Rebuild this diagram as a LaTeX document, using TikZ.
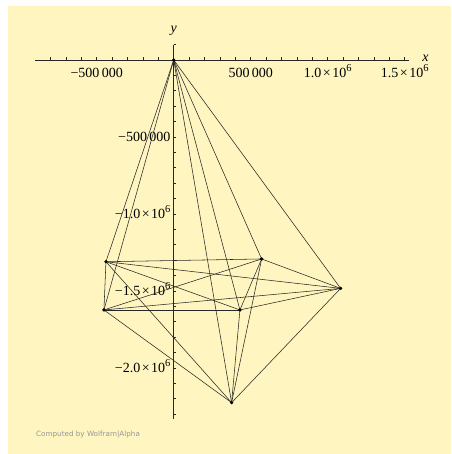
\documentclass[tikz,border=0pt]{standalone}
\usepackage{fontspec}
\setmainfont{Liberation Serif}
\newfontfamily\wafont{DejaVu Sans}
\definecolor{wabg}{RGB}{255,245,193}
\definecolor{waline}{RGB}{40,40,35}
\definecolor{wagray}{RGB}{150,150,150}
\newcommand{\sixexp}{\raisebox{0.42em}{\fontsize{10.5}{10.5}\selectfont 6}}
\newcommand{\tms}{\kern1.5pt×\kern1.5pt}
\begin{document}
\begin{tikzpicture}[
  edge/.style={draw=waline, line width=0.55pt},
  axisline/.style={draw=waline, line width=0.75pt},
  tickmark/.style={draw=waline, line width=0.6pt},
  dot/.style={circle, fill=black, inner sep=0pt, minimum size=3.3pt},
  ticklab/.style={font=\fontsize{14}{14}\selectfont, inner sep=0pt, text=black},
  axlab/.style={font=\fontsize{14}{14}\selectfont\itshape, inner sep=0pt},
  credit/.style={font=\wafont\fontsize{7.2}{7.2}\selectfont, text=wagray, inner sep=0pt}
]
\useasboundingbox (0,0) rectangle (451pt,454pt);
\fill[white] (0,0) rectangle (451pt,454pt);
\fill[wabg] (7.5pt,0) rectangle (451pt,448pt);
\begin{scope}[shift={(173.7pt,394pt)}, x=15.4pt, y=15.4pt]
  % axes
  \coordinate (xl) at (-8.98,0);
  \coordinate (xr) at (15.30,0);
  \coordinate (yt) at (0,1);
  \coordinate (yb) at (0,-23.3);
  \draw[axisline] (xl) -- (xr);
  \draw[axisline] (yt) -- (yb);
  \foreach \i in {-8,...,15} \draw[tickmark] (\i,0) -- ++(0,2.5pt);
  \foreach \j in {-23,...,1} \draw[tickmark] (0,\j) -- ++(2.5pt,0);
  % tick labels
  \node[ticklab, anchor=base] (lxa) at (-5,-1.12) {−500\,000};
  \node[ticklab, anchor=base] (lxb) at (5,-1.12) {500\,000};
  \node[ticklab, anchor=base] (lxc) at (10,-1.12) {1.0\tms10\sixexp};
  \node[ticklab, anchor=base] (lxd) at (15,-1.12) {1.5\tms10\sixexp};
  \node[ticklab, anchor=base east] (lya) at (-0.2,-5.29) {−500\,000};
  \node[ticklab, anchor=base east] (lyb) at (-0.2,-10.29) {−1.0\tms10\sixexp};
  \node[ticklab, anchor=base east] (lyc) at (-0.2,-15.29) {−1.5\tms10\sixexp};
  \node[ticklab, anchor=base east] (lyd) at (-0.2,-20.29) {−2.0\tms10\sixexp};
  \node[axlab] (ylab) at (0,1.88) {y};
  \node[axlab] (xlab) at (16.35,0.14) {x};
  % vertices
  \node[dot] (O) at (0,0) {};
  \node[dot] (A) at (-4.40,-13.10) {};
  \node[dot] (B) at (5.71,-12.92) {};
  \node[dot] (C) at (10.84,-14.83) {};
  \node[dot] (D) at (-4.53,-16.23) {};
  \node[dot] (E) at (4.30,-16.23) {};
  \node[dot] (F) at (3.76,-22.25) {};
  % edges (complete graph)
  \foreach \a/\b in {O/A,O/B,O/C,O/D,O/E,O/F,
                     A/B,A/C,A/D,A/E,A/F,
                     B/C,B/D,B/E,B/F,
                     C/D,C/E,C/F,
                     D/E,D/F,
                     E/F}
    \draw[edge] (\a.center) -- (\b.center);
  \foreach \n in {O,A,B,C,D,E,F} \fill (\n) circle (1.65pt);
\end{scope}
\node[credit, anchor=west] (cred) at (36pt,19pt) {Computed by Wolfram|Alpha};
\end{tikzpicture}
\end{document}
